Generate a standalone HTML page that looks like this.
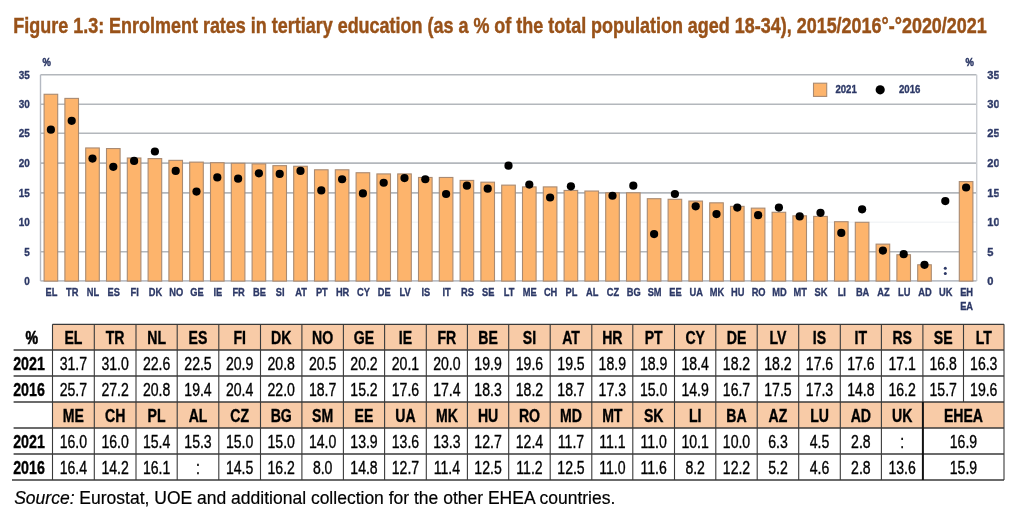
<!DOCTYPE html>
<html><head><meta charset="utf-8"><style>
html,body{margin:0;padding:0;background:#fff;width:1024px;height:514px;overflow:hidden}
svg{display:block;font-family:"Liberation Sans",sans-serif;filter:blur(0.35px)}
</style></head><body>
<svg width="1024" height="514" viewBox="0 0 1024 514">
<defs><clipPath id="rc"><rect x="0" y="0" width="998.7" height="514"/></clipPath></defs>
<line x1="40.5" y1="74.8" x2="976.5" y2="74.8" stroke="#b3b7bc" stroke-width="1.6"/>
<line x1="40.5" y1="104.3" x2="976.5" y2="104.3" stroke="#b3b7bc" stroke-width="1.6"/>
<line x1="40.5" y1="133.2" x2="976.5" y2="133.2" stroke="#b3b7bc" stroke-width="1.6"/>
<line x1="40.5" y1="163.1" x2="976.5" y2="163.1" stroke="#b3b7bc" stroke-width="1.6"/>
<line x1="40.5" y1="192.9" x2="976.5" y2="192.9" stroke="#b3b7bc" stroke-width="1.6"/>
<line x1="40.5" y1="222.3" x2="976.5" y2="222.3" stroke="#f3f5f7" stroke-width="1.6"/>
<line x1="40.5" y1="251.7" x2="976.5" y2="251.7" stroke="#b3b7bc" stroke-width="1.6"/>
<line x1="40.5" y1="74.8" x2="40.5" y2="281.0" stroke="#b4b9c2" stroke-width="1.4"/>
<line x1="976.7" y1="74.8" x2="976.7" y2="281.0" stroke="#cbced3" stroke-width="1.4"/>
<line x1="40.5" y1="280.8" x2="976.5" y2="280.8" stroke="#bcc0c7" stroke-width="1.7"/>
<rect x="44.10" y="94.27" width="13.6" height="186.83" fill="#fdb46c" stroke="#a98a72" stroke-width="1.1"/>
<rect x="64.90" y="98.40" width="13.6" height="182.70" fill="#fdb46c" stroke="#a98a72" stroke-width="1.1"/>
<rect x="85.70" y="147.96" width="13.6" height="133.14" fill="#fdb46c" stroke="#a98a72" stroke-width="1.1"/>
<rect x="106.50" y="148.55" width="13.6" height="132.55" fill="#fdb46c" stroke="#a98a72" stroke-width="1.1"/>
<rect x="127.30" y="157.99" width="13.6" height="123.11" fill="#fdb46c" stroke="#a98a72" stroke-width="1.1"/>
<rect x="148.10" y="158.58" width="13.6" height="122.52" fill="#fdb46c" stroke="#a98a72" stroke-width="1.1"/>
<rect x="168.90" y="160.35" width="13.6" height="120.75" fill="#fdb46c" stroke="#a98a72" stroke-width="1.1"/>
<rect x="189.70" y="162.12" width="13.6" height="118.98" fill="#fdb46c" stroke="#a98a72" stroke-width="1.1"/>
<rect x="210.50" y="162.71" width="13.6" height="118.39" fill="#fdb46c" stroke="#a98a72" stroke-width="1.1"/>
<rect x="231.30" y="163.30" width="13.6" height="117.80" fill="#fdb46c" stroke="#a98a72" stroke-width="1.1"/>
<rect x="252.10" y="163.89" width="13.6" height="117.21" fill="#fdb46c" stroke="#a98a72" stroke-width="1.1"/>
<rect x="272.90" y="165.66" width="13.6" height="115.44" fill="#fdb46c" stroke="#a98a72" stroke-width="1.1"/>
<rect x="293.70" y="166.25" width="13.6" height="114.85" fill="#fdb46c" stroke="#a98a72" stroke-width="1.1"/>
<rect x="314.50" y="169.79" width="13.6" height="111.31" fill="#fdb46c" stroke="#a98a72" stroke-width="1.1"/>
<rect x="335.30" y="169.79" width="13.6" height="111.31" fill="#fdb46c" stroke="#a98a72" stroke-width="1.1"/>
<rect x="356.10" y="172.74" width="13.6" height="108.36" fill="#fdb46c" stroke="#a98a72" stroke-width="1.1"/>
<rect x="376.90" y="173.92" width="13.6" height="107.18" fill="#fdb46c" stroke="#a98a72" stroke-width="1.1"/>
<rect x="397.70" y="173.92" width="13.6" height="107.18" fill="#fdb46c" stroke="#a98a72" stroke-width="1.1"/>
<rect x="418.50" y="177.46" width="13.6" height="103.64" fill="#fdb46c" stroke="#a98a72" stroke-width="1.1"/>
<rect x="439.30" y="177.46" width="13.6" height="103.64" fill="#fdb46c" stroke="#a98a72" stroke-width="1.1"/>
<rect x="460.10" y="180.41" width="13.6" height="100.69" fill="#fdb46c" stroke="#a98a72" stroke-width="1.1"/>
<rect x="480.90" y="182.18" width="13.6" height="98.92" fill="#fdb46c" stroke="#a98a72" stroke-width="1.1"/>
<rect x="501.70" y="185.13" width="13.6" height="95.97" fill="#fdb46c" stroke="#a98a72" stroke-width="1.1"/>
<rect x="522.50" y="186.90" width="13.6" height="94.20" fill="#fdb46c" stroke="#a98a72" stroke-width="1.1"/>
<rect x="543.30" y="186.90" width="13.6" height="94.20" fill="#fdb46c" stroke="#a98a72" stroke-width="1.1"/>
<rect x="564.10" y="190.44" width="13.6" height="90.66" fill="#fdb46c" stroke="#a98a72" stroke-width="1.1"/>
<rect x="584.90" y="191.03" width="13.6" height="90.07" fill="#fdb46c" stroke="#a98a72" stroke-width="1.1"/>
<rect x="605.70" y="192.80" width="13.6" height="88.30" fill="#fdb46c" stroke="#a98a72" stroke-width="1.1"/>
<rect x="626.50" y="192.80" width="13.6" height="88.30" fill="#fdb46c" stroke="#a98a72" stroke-width="1.1"/>
<rect x="647.30" y="198.70" width="13.6" height="82.40" fill="#fdb46c" stroke="#a98a72" stroke-width="1.1"/>
<rect x="668.10" y="199.29" width="13.6" height="81.81" fill="#fdb46c" stroke="#a98a72" stroke-width="1.1"/>
<rect x="688.90" y="201.06" width="13.6" height="80.04" fill="#fdb46c" stroke="#a98a72" stroke-width="1.1"/>
<rect x="709.70" y="202.83" width="13.6" height="78.27" fill="#fdb46c" stroke="#a98a72" stroke-width="1.1"/>
<rect x="730.50" y="206.37" width="13.6" height="74.73" fill="#fdb46c" stroke="#a98a72" stroke-width="1.1"/>
<rect x="751.30" y="208.14" width="13.6" height="72.96" fill="#fdb46c" stroke="#a98a72" stroke-width="1.1"/>
<rect x="772.10" y="212.27" width="13.6" height="68.83" fill="#fdb46c" stroke="#a98a72" stroke-width="1.1"/>
<rect x="792.90" y="215.81" width="13.6" height="65.29" fill="#fdb46c" stroke="#a98a72" stroke-width="1.1"/>
<rect x="813.70" y="216.40" width="13.6" height="64.70" fill="#fdb46c" stroke="#a98a72" stroke-width="1.1"/>
<rect x="834.50" y="221.71" width="13.6" height="59.39" fill="#fdb46c" stroke="#a98a72" stroke-width="1.1"/>
<rect x="855.30" y="222.30" width="13.6" height="58.80" fill="#fdb46c" stroke="#a98a72" stroke-width="1.1"/>
<rect x="876.10" y="244.13" width="13.6" height="36.97" fill="#fdb46c" stroke="#a98a72" stroke-width="1.1"/>
<rect x="896.90" y="254.75" width="13.6" height="26.35" fill="#fdb46c" stroke="#a98a72" stroke-width="1.1"/>
<rect x="917.70" y="264.78" width="13.6" height="16.32" fill="#fdb46c" stroke="#a98a72" stroke-width="1.1"/>
<rect x="959.30" y="181.59" width="13.6" height="99.51" fill="#fdb46c" stroke="#a98a72" stroke-width="1.1"/>
<circle cx="50.90" cy="129.67" r="4.1" fill="#000"/>
<circle cx="71.70" cy="120.82" r="4.1" fill="#000"/>
<circle cx="92.50" cy="158.58" r="4.1" fill="#000"/>
<circle cx="113.30" cy="166.84" r="4.1" fill="#000"/>
<circle cx="134.10" cy="160.94" r="4.1" fill="#000"/>
<circle cx="154.90" cy="151.50" r="4.1" fill="#000"/>
<circle cx="175.70" cy="170.97" r="4.1" fill="#000"/>
<circle cx="196.50" cy="191.62" r="4.1" fill="#000"/>
<circle cx="217.30" cy="177.46" r="4.1" fill="#000"/>
<circle cx="238.10" cy="178.64" r="4.1" fill="#000"/>
<circle cx="258.90" cy="173.33" r="4.1" fill="#000"/>
<circle cx="279.70" cy="173.92" r="4.1" fill="#000"/>
<circle cx="300.50" cy="170.97" r="4.1" fill="#000"/>
<circle cx="321.30" cy="190.44" r="4.1" fill="#000"/>
<circle cx="342.10" cy="179.23" r="4.1" fill="#000"/>
<circle cx="362.90" cy="193.39" r="4.1" fill="#000"/>
<circle cx="383.70" cy="182.77" r="4.1" fill="#000"/>
<circle cx="404.50" cy="178.05" r="4.1" fill="#000"/>
<circle cx="425.30" cy="179.23" r="4.1" fill="#000"/>
<circle cx="446.10" cy="193.98" r="4.1" fill="#000"/>
<circle cx="466.90" cy="185.72" r="4.1" fill="#000"/>
<circle cx="487.70" cy="188.67" r="4.1" fill="#000"/>
<circle cx="508.50" cy="165.66" r="4.1" fill="#000"/>
<circle cx="529.30" cy="184.54" r="4.1" fill="#000"/>
<circle cx="550.10" cy="197.52" r="4.1" fill="#000"/>
<circle cx="570.90" cy="186.31" r="4.1" fill="#000"/>
<circle cx="612.50" cy="195.75" r="4.1" fill="#000"/>
<circle cx="633.30" cy="185.72" r="4.1" fill="#000"/>
<circle cx="654.10" cy="234.10" r="4.1" fill="#000"/>
<circle cx="674.90" cy="193.98" r="4.1" fill="#000"/>
<circle cx="695.70" cy="206.37" r="4.1" fill="#000"/>
<circle cx="716.50" cy="214.04" r="4.1" fill="#000"/>
<circle cx="737.30" cy="207.55" r="4.1" fill="#000"/>
<circle cx="758.10" cy="215.22" r="4.1" fill="#000"/>
<circle cx="778.90" cy="207.55" r="4.1" fill="#000"/>
<circle cx="799.70" cy="216.40" r="4.1" fill="#000"/>
<circle cx="820.50" cy="212.86" r="4.1" fill="#000"/>
<circle cx="841.30" cy="232.92" r="4.1" fill="#000"/>
<circle cx="862.10" cy="209.32" r="4.1" fill="#000"/>
<circle cx="882.90" cy="250.62" r="4.1" fill="#000"/>
<circle cx="903.70" cy="254.16" r="4.1" fill="#000"/>
<circle cx="924.50" cy="264.78" r="4.1" fill="#000"/>
<circle cx="945.30" cy="201.06" r="4.1" fill="#000"/>
<circle cx="966.10" cy="187.49" r="4.1" fill="#000"/>
<circle cx="945.30" cy="268.3" r="1.5" fill="#2c3866"/>
<circle cx="945.30" cy="273.6" r="1.5" fill="#2c3866"/>
<text transform="translate(51.40,296.20) scale(0.8,1)" text-anchor="middle" font-size="11.6" font-weight="bold" font-style="normal" fill="#2c3866" stroke="#2c3866" stroke-width="0.35" >EL</text>
<text transform="translate(72.20,296.20) scale(0.8,1)" text-anchor="middle" font-size="11.6" font-weight="bold" font-style="normal" fill="#2c3866" stroke="#2c3866" stroke-width="0.35" >TR</text>
<text transform="translate(93.00,296.20) scale(0.8,1)" text-anchor="middle" font-size="11.6" font-weight="bold" font-style="normal" fill="#2c3866" stroke="#2c3866" stroke-width="0.35" >NL</text>
<text transform="translate(113.80,296.20) scale(0.8,1)" text-anchor="middle" font-size="11.6" font-weight="bold" font-style="normal" fill="#2c3866" stroke="#2c3866" stroke-width="0.35" >ES</text>
<text transform="translate(134.60,296.20) scale(0.8,1)" text-anchor="middle" font-size="11.6" font-weight="bold" font-style="normal" fill="#2c3866" stroke="#2c3866" stroke-width="0.35" >FI</text>
<text transform="translate(155.40,296.20) scale(0.8,1)" text-anchor="middle" font-size="11.6" font-weight="bold" font-style="normal" fill="#2c3866" stroke="#2c3866" stroke-width="0.35" >DK</text>
<text transform="translate(176.20,296.20) scale(0.8,1)" text-anchor="middle" font-size="11.6" font-weight="bold" font-style="normal" fill="#2c3866" stroke="#2c3866" stroke-width="0.35" >NO</text>
<text transform="translate(197.00,296.20) scale(0.8,1)" text-anchor="middle" font-size="11.6" font-weight="bold" font-style="normal" fill="#2c3866" stroke="#2c3866" stroke-width="0.35" >GE</text>
<text transform="translate(217.80,296.20) scale(0.8,1)" text-anchor="middle" font-size="11.6" font-weight="bold" font-style="normal" fill="#2c3866" stroke="#2c3866" stroke-width="0.35" >IE</text>
<text transform="translate(238.60,296.20) scale(0.8,1)" text-anchor="middle" font-size="11.6" font-weight="bold" font-style="normal" fill="#2c3866" stroke="#2c3866" stroke-width="0.35" >FR</text>
<text transform="translate(259.40,296.20) scale(0.8,1)" text-anchor="middle" font-size="11.6" font-weight="bold" font-style="normal" fill="#2c3866" stroke="#2c3866" stroke-width="0.35" >BE</text>
<text transform="translate(280.20,296.20) scale(0.8,1)" text-anchor="middle" font-size="11.6" font-weight="bold" font-style="normal" fill="#2c3866" stroke="#2c3866" stroke-width="0.35" >SI</text>
<text transform="translate(301.00,296.20) scale(0.8,1)" text-anchor="middle" font-size="11.6" font-weight="bold" font-style="normal" fill="#2c3866" stroke="#2c3866" stroke-width="0.35" >AT</text>
<text transform="translate(321.80,296.20) scale(0.8,1)" text-anchor="middle" font-size="11.6" font-weight="bold" font-style="normal" fill="#2c3866" stroke="#2c3866" stroke-width="0.35" >PT</text>
<text transform="translate(342.60,296.20) scale(0.8,1)" text-anchor="middle" font-size="11.6" font-weight="bold" font-style="normal" fill="#2c3866" stroke="#2c3866" stroke-width="0.35" >HR</text>
<text transform="translate(363.40,296.20) scale(0.8,1)" text-anchor="middle" font-size="11.6" font-weight="bold" font-style="normal" fill="#2c3866" stroke="#2c3866" stroke-width="0.35" >CY</text>
<text transform="translate(384.20,296.20) scale(0.8,1)" text-anchor="middle" font-size="11.6" font-weight="bold" font-style="normal" fill="#2c3866" stroke="#2c3866" stroke-width="0.35" >DE</text>
<text transform="translate(405.00,296.20) scale(0.8,1)" text-anchor="middle" font-size="11.6" font-weight="bold" font-style="normal" fill="#2c3866" stroke="#2c3866" stroke-width="0.35" >LV</text>
<text transform="translate(425.80,296.20) scale(0.8,1)" text-anchor="middle" font-size="11.6" font-weight="bold" font-style="normal" fill="#2c3866" stroke="#2c3866" stroke-width="0.35" >IS</text>
<text transform="translate(446.60,296.20) scale(0.8,1)" text-anchor="middle" font-size="11.6" font-weight="bold" font-style="normal" fill="#2c3866" stroke="#2c3866" stroke-width="0.35" >IT</text>
<text transform="translate(467.40,296.20) scale(0.8,1)" text-anchor="middle" font-size="11.6" font-weight="bold" font-style="normal" fill="#2c3866" stroke="#2c3866" stroke-width="0.35" >RS</text>
<text transform="translate(488.20,296.20) scale(0.8,1)" text-anchor="middle" font-size="11.6" font-weight="bold" font-style="normal" fill="#2c3866" stroke="#2c3866" stroke-width="0.35" >SE</text>
<text transform="translate(509.00,296.20) scale(0.8,1)" text-anchor="middle" font-size="11.6" font-weight="bold" font-style="normal" fill="#2c3866" stroke="#2c3866" stroke-width="0.35" >LT</text>
<text transform="translate(529.80,296.20) scale(0.8,1)" text-anchor="middle" font-size="11.6" font-weight="bold" font-style="normal" fill="#2c3866" stroke="#2c3866" stroke-width="0.35" >ME</text>
<text transform="translate(550.60,296.20) scale(0.8,1)" text-anchor="middle" font-size="11.6" font-weight="bold" font-style="normal" fill="#2c3866" stroke="#2c3866" stroke-width="0.35" >CH</text>
<text transform="translate(571.40,296.20) scale(0.8,1)" text-anchor="middle" font-size="11.6" font-weight="bold" font-style="normal" fill="#2c3866" stroke="#2c3866" stroke-width="0.35" >PL</text>
<text transform="translate(592.20,296.20) scale(0.8,1)" text-anchor="middle" font-size="11.6" font-weight="bold" font-style="normal" fill="#2c3866" stroke="#2c3866" stroke-width="0.35" >AL</text>
<text transform="translate(613.00,296.20) scale(0.8,1)" text-anchor="middle" font-size="11.6" font-weight="bold" font-style="normal" fill="#2c3866" stroke="#2c3866" stroke-width="0.35" >CZ</text>
<text transform="translate(633.80,296.20) scale(0.8,1)" text-anchor="middle" font-size="11.6" font-weight="bold" font-style="normal" fill="#2c3866" stroke="#2c3866" stroke-width="0.35" >BG</text>
<text transform="translate(654.60,296.20) scale(0.8,1)" text-anchor="middle" font-size="11.6" font-weight="bold" font-style="normal" fill="#2c3866" stroke="#2c3866" stroke-width="0.35" >SM</text>
<text transform="translate(675.40,296.20) scale(0.8,1)" text-anchor="middle" font-size="11.6" font-weight="bold" font-style="normal" fill="#2c3866" stroke="#2c3866" stroke-width="0.35" >EE</text>
<text transform="translate(696.20,296.20) scale(0.8,1)" text-anchor="middle" font-size="11.6" font-weight="bold" font-style="normal" fill="#2c3866" stroke="#2c3866" stroke-width="0.35" >UA</text>
<text transform="translate(717.00,296.20) scale(0.8,1)" text-anchor="middle" font-size="11.6" font-weight="bold" font-style="normal" fill="#2c3866" stroke="#2c3866" stroke-width="0.35" >MK</text>
<text transform="translate(737.80,296.20) scale(0.8,1)" text-anchor="middle" font-size="11.6" font-weight="bold" font-style="normal" fill="#2c3866" stroke="#2c3866" stroke-width="0.35" >HU</text>
<text transform="translate(758.60,296.20) scale(0.8,1)" text-anchor="middle" font-size="11.6" font-weight="bold" font-style="normal" fill="#2c3866" stroke="#2c3866" stroke-width="0.35" >RO</text>
<text transform="translate(779.40,296.20) scale(0.8,1)" text-anchor="middle" font-size="11.6" font-weight="bold" font-style="normal" fill="#2c3866" stroke="#2c3866" stroke-width="0.35" >MD</text>
<text transform="translate(800.20,296.20) scale(0.8,1)" text-anchor="middle" font-size="11.6" font-weight="bold" font-style="normal" fill="#2c3866" stroke="#2c3866" stroke-width="0.35" >MT</text>
<text transform="translate(821.00,296.20) scale(0.8,1)" text-anchor="middle" font-size="11.6" font-weight="bold" font-style="normal" fill="#2c3866" stroke="#2c3866" stroke-width="0.35" >SK</text>
<text transform="translate(841.80,296.20) scale(0.8,1)" text-anchor="middle" font-size="11.6" font-weight="bold" font-style="normal" fill="#2c3866" stroke="#2c3866" stroke-width="0.35" >LI</text>
<text transform="translate(862.60,296.20) scale(0.8,1)" text-anchor="middle" font-size="11.6" font-weight="bold" font-style="normal" fill="#2c3866" stroke="#2c3866" stroke-width="0.35" >BA</text>
<text transform="translate(883.40,296.20) scale(0.8,1)" text-anchor="middle" font-size="11.6" font-weight="bold" font-style="normal" fill="#2c3866" stroke="#2c3866" stroke-width="0.35" >AZ</text>
<text transform="translate(904.20,296.20) scale(0.8,1)" text-anchor="middle" font-size="11.6" font-weight="bold" font-style="normal" fill="#2c3866" stroke="#2c3866" stroke-width="0.35" >LU</text>
<text transform="translate(925.00,296.20) scale(0.8,1)" text-anchor="middle" font-size="11.6" font-weight="bold" font-style="normal" fill="#2c3866" stroke="#2c3866" stroke-width="0.35" >AD</text>
<text transform="translate(945.80,296.20) scale(0.8,1)" text-anchor="middle" font-size="11.6" font-weight="bold" font-style="normal" fill="#2c3866" stroke="#2c3866" stroke-width="0.35" >UK</text>
<text transform="translate(966.60,296.20) scale(0.8,1)" text-anchor="middle" font-size="11.6" font-weight="bold" font-style="normal" fill="#2c3866" stroke="#2c3866" stroke-width="0.35" >EH</text>
<text transform="translate(966.60,309.60) scale(0.8,1)" text-anchor="middle" font-size="11.6" font-weight="bold" font-style="normal" fill="#2c3866" stroke="#2c3866" stroke-width="0.35" >EA</text>
<text transform="translate(29.80,78.80) scale(0.86,1)" text-anchor="end" font-size="11.6" font-weight="bold" font-style="normal" fill="#2c3866" stroke="#2c3866" stroke-width="0.35" >35</text>
<g clip-path="url(#rc)"><text transform="translate(987.20,78.80) scale(0.96,1)" text-anchor="start" font-size="11.6" font-weight="bold" font-style="normal" fill="#2c3866" stroke="#2c3866" stroke-width="0.35" >35</text></g>
<text transform="translate(29.80,108.30) scale(0.86,1)" text-anchor="end" font-size="11.6" font-weight="bold" font-style="normal" fill="#2c3866" stroke="#2c3866" stroke-width="0.35" >30</text>
<g clip-path="url(#rc)"><text transform="translate(987.20,108.30) scale(0.96,1)" text-anchor="start" font-size="11.6" font-weight="bold" font-style="normal" fill="#2c3866" stroke="#2c3866" stroke-width="0.35" >30</text></g>
<text transform="translate(29.80,137.20) scale(0.86,1)" text-anchor="end" font-size="11.6" font-weight="bold" font-style="normal" fill="#2c3866" stroke="#2c3866" stroke-width="0.35" >25</text>
<g clip-path="url(#rc)"><text transform="translate(987.20,137.20) scale(0.96,1)" text-anchor="start" font-size="11.6" font-weight="bold" font-style="normal" fill="#2c3866" stroke="#2c3866" stroke-width="0.35" >25</text></g>
<text transform="translate(29.80,167.10) scale(0.86,1)" text-anchor="end" font-size="11.6" font-weight="bold" font-style="normal" fill="#2c3866" stroke="#2c3866" stroke-width="0.35" >20</text>
<g clip-path="url(#rc)"><text transform="translate(987.20,167.10) scale(0.96,1)" text-anchor="start" font-size="11.6" font-weight="bold" font-style="normal" fill="#2c3866" stroke="#2c3866" stroke-width="0.35" >20</text></g>
<text transform="translate(29.80,196.90) scale(0.86,1)" text-anchor="end" font-size="11.6" font-weight="bold" font-style="normal" fill="#2c3866" stroke="#2c3866" stroke-width="0.35" >15</text>
<g clip-path="url(#rc)"><text transform="translate(987.20,196.90) scale(0.96,1)" text-anchor="start" font-size="11.6" font-weight="bold" font-style="normal" fill="#2c3866" stroke="#2c3866" stroke-width="0.35" >15</text></g>
<text transform="translate(29.80,226.30) scale(0.86,1)" text-anchor="end" font-size="11.6" font-weight="bold" font-style="normal" fill="#2c3866" stroke="#2c3866" stroke-width="0.35" >10</text>
<g clip-path="url(#rc)"><text transform="translate(987.20,226.30) scale(0.96,1)" text-anchor="start" font-size="11.6" font-weight="bold" font-style="normal" fill="#2c3866" stroke="#2c3866" stroke-width="0.35" >10</text></g>
<text transform="translate(29.80,255.70) scale(0.86,1)" text-anchor="end" font-size="11.6" font-weight="bold" font-style="normal" fill="#2c3866" stroke="#2c3866" stroke-width="0.35" >5</text>
<g clip-path="url(#rc)"><text transform="translate(987.20,255.70) scale(0.96,1)" text-anchor="start" font-size="11.6" font-weight="bold" font-style="normal" fill="#2c3866" stroke="#2c3866" stroke-width="0.35" >5</text></g>
<text transform="translate(29.80,285.00) scale(0.86,1)" text-anchor="end" font-size="11.6" font-weight="bold" font-style="normal" fill="#2c3866" stroke="#2c3866" stroke-width="0.35" >0</text>
<g clip-path="url(#rc)"><text transform="translate(987.20,285.00) scale(0.96,1)" text-anchor="start" font-size="11.6" font-weight="bold" font-style="normal" fill="#2c3866" stroke="#2c3866" stroke-width="0.35" >0</text></g>
<text transform="translate(42.40,66.30) scale(0.8,1)" text-anchor="start" font-size="11.8" font-weight="bold" font-style="normal" fill="#2c3866" stroke="#2c3866" stroke-width="0.5" >%</text>
<text transform="translate(965.40,66.30) scale(0.8,1)" text-anchor="start" font-size="11.8" font-weight="bold" font-style="normal" fill="#2c3866" stroke="#2c3866" stroke-width="0.5" >%</text>
<rect x="813.5" y="83.2" width="13.2" height="13.2" fill="#fdb46c" stroke="#a98a72" stroke-width="1.1"/>
<text transform="translate(835.40,93.30) scale(0.86,1)" text-anchor="start" font-size="11.2" font-weight="bold" font-style="normal" fill="#2c3866" stroke="#2c3866" stroke-width="0.35" >2021</text>
<circle cx="880.2" cy="89.8" r="4.6" fill="#000"/>
<text transform="translate(899.00,93.30) scale(0.86,1)" text-anchor="start" font-size="11.2" font-weight="bold" font-style="normal" fill="#2c3866" stroke="#2c3866" stroke-width="0.35" >2016</text>
<text transform="translate(13.30,33.00) scale(1.0,1)" text-anchor="start" font-size="21.6" font-weight="bold" font-style="normal" fill="#995219" stroke="#995219" stroke-width="0.45" textLength="973.5" lengthAdjust="spacingAndGlyphs">Figure 1.3: Enrolment rates in tertiary education (as a % of the total population aged 18-34), 2015/2016°-°2020/2021</text>
<rect x="52.5" y="324.3" width="951.5" height="25.69999999999999" fill="#f8cba7"/>
<rect x="52.5" y="402.0" width="951.5" height="26.0" fill="#f8cba7"/>
<line x1="52.5" y1="324.3" x2="1004.0" y2="324.3" stroke="#3a3a3a" stroke-width="1.3"/>
<line x1="13.6" y1="350.0" x2="1004.0" y2="350.0" stroke="#3a3a3a" stroke-width="1.4"/>
<line x1="13.6" y1="376.0" x2="1004.0" y2="376.0" stroke="#3a3a3a" stroke-width="1.4"/>
<line x1="13.6" y1="402.0" x2="1004.0" y2="402.0" stroke="#3a3a3a" stroke-width="1.4"/>
<line x1="13.6" y1="428.0" x2="1004.0" y2="428.0" stroke="#3a3a3a" stroke-width="1.4"/>
<line x1="13.6" y1="454.0" x2="1004.0" y2="454.0" stroke="#3a3a3a" stroke-width="1.4"/>
<line x1="12.0" y1="480.0" x2="1004.0" y2="480.0" stroke="#3a3a3a" stroke-width="1.4"/>
<line x1="52.5" y1="324.3" x2="52.5" y2="480.0" stroke="#3a3a3a" stroke-width="1.1"/>
<line x1="94.3" y1="324.3" x2="94.3" y2="480.0" stroke="#3a3a3a" stroke-width="1.1"/>
<line x1="136.0" y1="324.3" x2="136.0" y2="480.0" stroke="#3a3a3a" stroke-width="1.1"/>
<line x1="177.2" y1="324.3" x2="177.2" y2="480.0" stroke="#3a3a3a" stroke-width="1.1"/>
<line x1="218.8" y1="324.3" x2="218.8" y2="480.0" stroke="#3a3a3a" stroke-width="1.1"/>
<line x1="260.5" y1="324.3" x2="260.5" y2="480.0" stroke="#3a3a3a" stroke-width="1.1"/>
<line x1="301.9" y1="324.3" x2="301.9" y2="480.0" stroke="#3a3a3a" stroke-width="1.1"/>
<line x1="343.4" y1="324.3" x2="343.4" y2="480.0" stroke="#3a3a3a" stroke-width="1.1"/>
<line x1="384.6" y1="324.3" x2="384.6" y2="480.0" stroke="#3a3a3a" stroke-width="1.1"/>
<line x1="426.3" y1="324.3" x2="426.3" y2="480.0" stroke="#3a3a3a" stroke-width="1.1"/>
<line x1="467.4" y1="324.3" x2="467.4" y2="480.0" stroke="#3a3a3a" stroke-width="1.1"/>
<line x1="508.7" y1="324.3" x2="508.7" y2="480.0" stroke="#3a3a3a" stroke-width="1.1"/>
<line x1="550.2" y1="324.3" x2="550.2" y2="480.0" stroke="#3a3a3a" stroke-width="1.1"/>
<line x1="591.8" y1="324.3" x2="591.8" y2="480.0" stroke="#3a3a3a" stroke-width="1.1"/>
<line x1="632.8" y1="324.3" x2="632.8" y2="480.0" stroke="#3a3a3a" stroke-width="1.1"/>
<line x1="674.5" y1="324.3" x2="674.5" y2="480.0" stroke="#3a3a3a" stroke-width="1.1"/>
<line x1="715.8" y1="324.3" x2="715.8" y2="480.0" stroke="#3a3a3a" stroke-width="1.1"/>
<line x1="757.2" y1="324.3" x2="757.2" y2="480.0" stroke="#3a3a3a" stroke-width="1.1"/>
<line x1="798.7" y1="324.3" x2="798.7" y2="480.0" stroke="#3a3a3a" stroke-width="1.1"/>
<line x1="840.3" y1="324.3" x2="840.3" y2="480.0" stroke="#3a3a3a" stroke-width="1.1"/>
<line x1="881.4" y1="324.3" x2="881.4" y2="480.0" stroke="#3a3a3a" stroke-width="1.1"/>
<line x1="922.9" y1="324.3" x2="922.9" y2="402.0" stroke="#3a3a3a" stroke-width="1.1"/>
<line x1="922.9" y1="402.0" x2="922.9" y2="480.0" stroke="#111" stroke-width="2.0"/>
<line x1="963.5" y1="324.3" x2="963.5" y2="402.0" stroke="#3a3a3a" stroke-width="1.1"/>
<line x1="1004.0" y1="324.3" x2="1004.0" y2="480.0" stroke="#3a3a3a" stroke-width="1.1"/>
<text transform="translate(31.80,344.30) scale(0.8,1)" text-anchor="middle" font-size="17.6" font-weight="bold" font-style="normal" fill="#000" stroke="#000" stroke-width="0.6" >%</text>
<text transform="translate(73.40,344.30) scale(0.8,1)" text-anchor="middle" font-size="17.6" font-weight="bold" font-style="normal" fill="#000" stroke="#000" stroke-width="0.35" >EL</text>
<text transform="translate(73.40,370.00) scale(0.8,1)" text-anchor="middle" font-size="17.6" font-weight="normal" font-style="normal" fill="#000" stroke="#000" stroke-width="0.35" >31.7</text>
<text transform="translate(73.40,396.00) scale(0.8,1)" text-anchor="middle" font-size="17.6" font-weight="normal" font-style="normal" fill="#000" stroke="#000" stroke-width="0.35" >25.7</text>
<text transform="translate(115.15,344.30) scale(0.8,1)" text-anchor="middle" font-size="17.6" font-weight="bold" font-style="normal" fill="#000" stroke="#000" stroke-width="0.35" >TR</text>
<text transform="translate(115.15,370.00) scale(0.8,1)" text-anchor="middle" font-size="17.6" font-weight="normal" font-style="normal" fill="#000" stroke="#000" stroke-width="0.35" >31.0</text>
<text transform="translate(115.15,396.00) scale(0.8,1)" text-anchor="middle" font-size="17.6" font-weight="normal" font-style="normal" fill="#000" stroke="#000" stroke-width="0.35" >27.2</text>
<text transform="translate(156.60,344.30) scale(0.8,1)" text-anchor="middle" font-size="17.6" font-weight="bold" font-style="normal" fill="#000" stroke="#000" stroke-width="0.35" >NL</text>
<text transform="translate(156.60,370.00) scale(0.8,1)" text-anchor="middle" font-size="17.6" font-weight="normal" font-style="normal" fill="#000" stroke="#000" stroke-width="0.35" >22.6</text>
<text transform="translate(156.60,396.00) scale(0.8,1)" text-anchor="middle" font-size="17.6" font-weight="normal" font-style="normal" fill="#000" stroke="#000" stroke-width="0.35" >20.8</text>
<text transform="translate(198.00,344.30) scale(0.8,1)" text-anchor="middle" font-size="17.6" font-weight="bold" font-style="normal" fill="#000" stroke="#000" stroke-width="0.35" >ES</text>
<text transform="translate(198.00,370.00) scale(0.8,1)" text-anchor="middle" font-size="17.6" font-weight="normal" font-style="normal" fill="#000" stroke="#000" stroke-width="0.35" >22.5</text>
<text transform="translate(198.00,396.00) scale(0.8,1)" text-anchor="middle" font-size="17.6" font-weight="normal" font-style="normal" fill="#000" stroke="#000" stroke-width="0.35" >19.4</text>
<text transform="translate(239.65,344.30) scale(0.8,1)" text-anchor="middle" font-size="17.6" font-weight="bold" font-style="normal" fill="#000" stroke="#000" stroke-width="0.35" >FI</text>
<text transform="translate(239.65,370.00) scale(0.8,1)" text-anchor="middle" font-size="17.6" font-weight="normal" font-style="normal" fill="#000" stroke="#000" stroke-width="0.35" >20.9</text>
<text transform="translate(239.65,396.00) scale(0.8,1)" text-anchor="middle" font-size="17.6" font-weight="normal" font-style="normal" fill="#000" stroke="#000" stroke-width="0.35" >20.4</text>
<text transform="translate(281.20,344.30) scale(0.8,1)" text-anchor="middle" font-size="17.6" font-weight="bold" font-style="normal" fill="#000" stroke="#000" stroke-width="0.35" >DK</text>
<text transform="translate(281.20,370.00) scale(0.8,1)" text-anchor="middle" font-size="17.6" font-weight="normal" font-style="normal" fill="#000" stroke="#000" stroke-width="0.35" >20.8</text>
<text transform="translate(281.20,396.00) scale(0.8,1)" text-anchor="middle" font-size="17.6" font-weight="normal" font-style="normal" fill="#000" stroke="#000" stroke-width="0.35" >22.0</text>
<text transform="translate(322.65,344.30) scale(0.8,1)" text-anchor="middle" font-size="17.6" font-weight="bold" font-style="normal" fill="#000" stroke="#000" stroke-width="0.35" >NO</text>
<text transform="translate(322.65,370.00) scale(0.8,1)" text-anchor="middle" font-size="17.6" font-weight="normal" font-style="normal" fill="#000" stroke="#000" stroke-width="0.35" >20.5</text>
<text transform="translate(322.65,396.00) scale(0.8,1)" text-anchor="middle" font-size="17.6" font-weight="normal" font-style="normal" fill="#000" stroke="#000" stroke-width="0.35" >18.7</text>
<text transform="translate(364.00,344.30) scale(0.8,1)" text-anchor="middle" font-size="17.6" font-weight="bold" font-style="normal" fill="#000" stroke="#000" stroke-width="0.35" >GE</text>
<text transform="translate(364.00,370.00) scale(0.8,1)" text-anchor="middle" font-size="17.6" font-weight="normal" font-style="normal" fill="#000" stroke="#000" stroke-width="0.35" >20.2</text>
<text transform="translate(364.00,396.00) scale(0.8,1)" text-anchor="middle" font-size="17.6" font-weight="normal" font-style="normal" fill="#000" stroke="#000" stroke-width="0.35" >15.2</text>
<text transform="translate(405.45,344.30) scale(0.8,1)" text-anchor="middle" font-size="17.6" font-weight="bold" font-style="normal" fill="#000" stroke="#000" stroke-width="0.35" >IE</text>
<text transform="translate(405.45,370.00) scale(0.8,1)" text-anchor="middle" font-size="17.6" font-weight="normal" font-style="normal" fill="#000" stroke="#000" stroke-width="0.35" >20.1</text>
<text transform="translate(405.45,396.00) scale(0.8,1)" text-anchor="middle" font-size="17.6" font-weight="normal" font-style="normal" fill="#000" stroke="#000" stroke-width="0.35" >17.6</text>
<text transform="translate(446.85,344.30) scale(0.8,1)" text-anchor="middle" font-size="17.6" font-weight="bold" font-style="normal" fill="#000" stroke="#000" stroke-width="0.35" >FR</text>
<text transform="translate(446.85,370.00) scale(0.8,1)" text-anchor="middle" font-size="17.6" font-weight="normal" font-style="normal" fill="#000" stroke="#000" stroke-width="0.35" >20.0</text>
<text transform="translate(446.85,396.00) scale(0.8,1)" text-anchor="middle" font-size="17.6" font-weight="normal" font-style="normal" fill="#000" stroke="#000" stroke-width="0.35" >17.4</text>
<text transform="translate(488.05,344.30) scale(0.8,1)" text-anchor="middle" font-size="17.6" font-weight="bold" font-style="normal" fill="#000" stroke="#000" stroke-width="0.35" >BE</text>
<text transform="translate(488.05,370.00) scale(0.8,1)" text-anchor="middle" font-size="17.6" font-weight="normal" font-style="normal" fill="#000" stroke="#000" stroke-width="0.35" >19.9</text>
<text transform="translate(488.05,396.00) scale(0.8,1)" text-anchor="middle" font-size="17.6" font-weight="normal" font-style="normal" fill="#000" stroke="#000" stroke-width="0.35" >18.3</text>
<text transform="translate(529.45,344.30) scale(0.8,1)" text-anchor="middle" font-size="17.6" font-weight="bold" font-style="normal" fill="#000" stroke="#000" stroke-width="0.35" >SI</text>
<text transform="translate(529.45,370.00) scale(0.8,1)" text-anchor="middle" font-size="17.6" font-weight="normal" font-style="normal" fill="#000" stroke="#000" stroke-width="0.35" >19.6</text>
<text transform="translate(529.45,396.00) scale(0.8,1)" text-anchor="middle" font-size="17.6" font-weight="normal" font-style="normal" fill="#000" stroke="#000" stroke-width="0.35" >18.2</text>
<text transform="translate(571.00,344.30) scale(0.8,1)" text-anchor="middle" font-size="17.6" font-weight="bold" font-style="normal" fill="#000" stroke="#000" stroke-width="0.35" >AT</text>
<text transform="translate(571.00,370.00) scale(0.8,1)" text-anchor="middle" font-size="17.6" font-weight="normal" font-style="normal" fill="#000" stroke="#000" stroke-width="0.35" >19.5</text>
<text transform="translate(571.00,396.00) scale(0.8,1)" text-anchor="middle" font-size="17.6" font-weight="normal" font-style="normal" fill="#000" stroke="#000" stroke-width="0.35" >18.7</text>
<text transform="translate(612.30,344.30) scale(0.8,1)" text-anchor="middle" font-size="17.6" font-weight="bold" font-style="normal" fill="#000" stroke="#000" stroke-width="0.35" >HR</text>
<text transform="translate(612.30,370.00) scale(0.8,1)" text-anchor="middle" font-size="17.6" font-weight="normal" font-style="normal" fill="#000" stroke="#000" stroke-width="0.35" >18.9</text>
<text transform="translate(612.30,396.00) scale(0.8,1)" text-anchor="middle" font-size="17.6" font-weight="normal" font-style="normal" fill="#000" stroke="#000" stroke-width="0.35" >17.3</text>
<text transform="translate(653.65,344.30) scale(0.8,1)" text-anchor="middle" font-size="17.6" font-weight="bold" font-style="normal" fill="#000" stroke="#000" stroke-width="0.35" >PT</text>
<text transform="translate(653.65,370.00) scale(0.8,1)" text-anchor="middle" font-size="17.6" font-weight="normal" font-style="normal" fill="#000" stroke="#000" stroke-width="0.35" >18.9</text>
<text transform="translate(653.65,396.00) scale(0.8,1)" text-anchor="middle" font-size="17.6" font-weight="normal" font-style="normal" fill="#000" stroke="#000" stroke-width="0.35" >15.0</text>
<text transform="translate(695.15,344.30) scale(0.8,1)" text-anchor="middle" font-size="17.6" font-weight="bold" font-style="normal" fill="#000" stroke="#000" stroke-width="0.35" >CY</text>
<text transform="translate(695.15,370.00) scale(0.8,1)" text-anchor="middle" font-size="17.6" font-weight="normal" font-style="normal" fill="#000" stroke="#000" stroke-width="0.35" >18.4</text>
<text transform="translate(695.15,396.00) scale(0.8,1)" text-anchor="middle" font-size="17.6" font-weight="normal" font-style="normal" fill="#000" stroke="#000" stroke-width="0.35" >14.9</text>
<text transform="translate(736.50,344.30) scale(0.8,1)" text-anchor="middle" font-size="17.6" font-weight="bold" font-style="normal" fill="#000" stroke="#000" stroke-width="0.35" >DE</text>
<text transform="translate(736.50,370.00) scale(0.8,1)" text-anchor="middle" font-size="17.6" font-weight="normal" font-style="normal" fill="#000" stroke="#000" stroke-width="0.35" >18.2</text>
<text transform="translate(736.50,396.00) scale(0.8,1)" text-anchor="middle" font-size="17.6" font-weight="normal" font-style="normal" fill="#000" stroke="#000" stroke-width="0.35" >16.7</text>
<text transform="translate(777.95,344.30) scale(0.8,1)" text-anchor="middle" font-size="17.6" font-weight="bold" font-style="normal" fill="#000" stroke="#000" stroke-width="0.35" >LV</text>
<text transform="translate(777.95,370.00) scale(0.8,1)" text-anchor="middle" font-size="17.6" font-weight="normal" font-style="normal" fill="#000" stroke="#000" stroke-width="0.35" >18.2</text>
<text transform="translate(777.95,396.00) scale(0.8,1)" text-anchor="middle" font-size="17.6" font-weight="normal" font-style="normal" fill="#000" stroke="#000" stroke-width="0.35" >17.5</text>
<text transform="translate(819.50,344.30) scale(0.8,1)" text-anchor="middle" font-size="17.6" font-weight="bold" font-style="normal" fill="#000" stroke="#000" stroke-width="0.35" >IS</text>
<text transform="translate(819.50,370.00) scale(0.8,1)" text-anchor="middle" font-size="17.6" font-weight="normal" font-style="normal" fill="#000" stroke="#000" stroke-width="0.35" >17.6</text>
<text transform="translate(819.50,396.00) scale(0.8,1)" text-anchor="middle" font-size="17.6" font-weight="normal" font-style="normal" fill="#000" stroke="#000" stroke-width="0.35" >17.3</text>
<text transform="translate(860.85,344.30) scale(0.8,1)" text-anchor="middle" font-size="17.6" font-weight="bold" font-style="normal" fill="#000" stroke="#000" stroke-width="0.35" >IT</text>
<text transform="translate(860.85,370.00) scale(0.8,1)" text-anchor="middle" font-size="17.6" font-weight="normal" font-style="normal" fill="#000" stroke="#000" stroke-width="0.35" >17.6</text>
<text transform="translate(860.85,396.00) scale(0.8,1)" text-anchor="middle" font-size="17.6" font-weight="normal" font-style="normal" fill="#000" stroke="#000" stroke-width="0.35" >14.8</text>
<text transform="translate(902.15,344.30) scale(0.8,1)" text-anchor="middle" font-size="17.6" font-weight="bold" font-style="normal" fill="#000" stroke="#000" stroke-width="0.35" >RS</text>
<text transform="translate(902.15,370.00) scale(0.8,1)" text-anchor="middle" font-size="17.6" font-weight="normal" font-style="normal" fill="#000" stroke="#000" stroke-width="0.35" >17.1</text>
<text transform="translate(902.15,396.00) scale(0.8,1)" text-anchor="middle" font-size="17.6" font-weight="normal" font-style="normal" fill="#000" stroke="#000" stroke-width="0.35" >16.2</text>
<text transform="translate(943.20,344.30) scale(0.8,1)" text-anchor="middle" font-size="17.6" font-weight="bold" font-style="normal" fill="#000" stroke="#000" stroke-width="0.35" >SE</text>
<text transform="translate(943.20,370.00) scale(0.8,1)" text-anchor="middle" font-size="17.6" font-weight="normal" font-style="normal" fill="#000" stroke="#000" stroke-width="0.35" >16.8</text>
<text transform="translate(943.20,396.00) scale(0.8,1)" text-anchor="middle" font-size="17.6" font-weight="normal" font-style="normal" fill="#000" stroke="#000" stroke-width="0.35" >15.7</text>
<text transform="translate(983.75,344.30) scale(0.8,1)" text-anchor="middle" font-size="17.6" font-weight="bold" font-style="normal" fill="#000" stroke="#000" stroke-width="0.35" >LT</text>
<text transform="translate(983.75,370.00) scale(0.8,1)" text-anchor="middle" font-size="17.6" font-weight="normal" font-style="normal" fill="#000" stroke="#000" stroke-width="0.35" >16.3</text>
<text transform="translate(983.75,396.00) scale(0.8,1)" text-anchor="middle" font-size="17.6" font-weight="normal" font-style="normal" fill="#000" stroke="#000" stroke-width="0.35" >19.6</text>
<text transform="translate(73.40,422.00) scale(0.8,1)" text-anchor="middle" font-size="17.6" font-weight="bold" font-style="normal" fill="#000" stroke="#000" stroke-width="0.35" >ME</text>
<text transform="translate(73.40,448.00) scale(0.8,1)" text-anchor="middle" font-size="17.6" font-weight="normal" font-style="normal" fill="#000" stroke="#000" stroke-width="0.35" >16.0</text>
<text transform="translate(73.40,474.00) scale(0.8,1)" text-anchor="middle" font-size="17.6" font-weight="normal" font-style="normal" fill="#000" stroke="#000" stroke-width="0.35" >16.4</text>
<text transform="translate(115.15,422.00) scale(0.8,1)" text-anchor="middle" font-size="17.6" font-weight="bold" font-style="normal" fill="#000" stroke="#000" stroke-width="0.35" >CH</text>
<text transform="translate(115.15,448.00) scale(0.8,1)" text-anchor="middle" font-size="17.6" font-weight="normal" font-style="normal" fill="#000" stroke="#000" stroke-width="0.35" >16.0</text>
<text transform="translate(115.15,474.00) scale(0.8,1)" text-anchor="middle" font-size="17.6" font-weight="normal" font-style="normal" fill="#000" stroke="#000" stroke-width="0.35" >14.2</text>
<text transform="translate(156.60,422.00) scale(0.8,1)" text-anchor="middle" font-size="17.6" font-weight="bold" font-style="normal" fill="#000" stroke="#000" stroke-width="0.35" >PL</text>
<text transform="translate(156.60,448.00) scale(0.8,1)" text-anchor="middle" font-size="17.6" font-weight="normal" font-style="normal" fill="#000" stroke="#000" stroke-width="0.35" >15.4</text>
<text transform="translate(156.60,474.00) scale(0.8,1)" text-anchor="middle" font-size="17.6" font-weight="normal" font-style="normal" fill="#000" stroke="#000" stroke-width="0.35" >16.1</text>
<text transform="translate(198.00,422.00) scale(0.8,1)" text-anchor="middle" font-size="17.6" font-weight="bold" font-style="normal" fill="#000" stroke="#000" stroke-width="0.35" >AL</text>
<text transform="translate(198.00,448.00) scale(0.8,1)" text-anchor="middle" font-size="17.6" font-weight="normal" font-style="normal" fill="#000" stroke="#000" stroke-width="0.35" >15.3</text>
<text transform="translate(198.00,474.00) scale(0.8,1)" text-anchor="middle" font-size="17.6" font-weight="normal" font-style="normal" fill="#000" stroke="#000" stroke-width="0.35" >:</text>
<text transform="translate(239.65,422.00) scale(0.8,1)" text-anchor="middle" font-size="17.6" font-weight="bold" font-style="normal" fill="#000" stroke="#000" stroke-width="0.35" >CZ</text>
<text transform="translate(239.65,448.00) scale(0.8,1)" text-anchor="middle" font-size="17.6" font-weight="normal" font-style="normal" fill="#000" stroke="#000" stroke-width="0.35" >15.0</text>
<text transform="translate(239.65,474.00) scale(0.8,1)" text-anchor="middle" font-size="17.6" font-weight="normal" font-style="normal" fill="#000" stroke="#000" stroke-width="0.35" >14.5</text>
<text transform="translate(281.20,422.00) scale(0.8,1)" text-anchor="middle" font-size="17.6" font-weight="bold" font-style="normal" fill="#000" stroke="#000" stroke-width="0.35" >BG</text>
<text transform="translate(281.20,448.00) scale(0.8,1)" text-anchor="middle" font-size="17.6" font-weight="normal" font-style="normal" fill="#000" stroke="#000" stroke-width="0.35" >15.0</text>
<text transform="translate(281.20,474.00) scale(0.8,1)" text-anchor="middle" font-size="17.6" font-weight="normal" font-style="normal" fill="#000" stroke="#000" stroke-width="0.35" >16.2</text>
<text transform="translate(322.65,422.00) scale(0.8,1)" text-anchor="middle" font-size="17.6" font-weight="bold" font-style="normal" fill="#000" stroke="#000" stroke-width="0.35" >SM</text>
<text transform="translate(322.65,448.00) scale(0.8,1)" text-anchor="middle" font-size="17.6" font-weight="normal" font-style="normal" fill="#000" stroke="#000" stroke-width="0.35" >14.0</text>
<text transform="translate(322.65,474.00) scale(0.8,1)" text-anchor="middle" font-size="17.6" font-weight="normal" font-style="normal" fill="#000" stroke="#000" stroke-width="0.35" >8.0</text>
<text transform="translate(364.00,422.00) scale(0.8,1)" text-anchor="middle" font-size="17.6" font-weight="bold" font-style="normal" fill="#000" stroke="#000" stroke-width="0.35" >EE</text>
<text transform="translate(364.00,448.00) scale(0.8,1)" text-anchor="middle" font-size="17.6" font-weight="normal" font-style="normal" fill="#000" stroke="#000" stroke-width="0.35" >13.9</text>
<text transform="translate(364.00,474.00) scale(0.8,1)" text-anchor="middle" font-size="17.6" font-weight="normal" font-style="normal" fill="#000" stroke="#000" stroke-width="0.35" >14.8</text>
<text transform="translate(405.45,422.00) scale(0.8,1)" text-anchor="middle" font-size="17.6" font-weight="bold" font-style="normal" fill="#000" stroke="#000" stroke-width="0.35" >UA</text>
<text transform="translate(405.45,448.00) scale(0.8,1)" text-anchor="middle" font-size="17.6" font-weight="normal" font-style="normal" fill="#000" stroke="#000" stroke-width="0.35" >13.6</text>
<text transform="translate(405.45,474.00) scale(0.8,1)" text-anchor="middle" font-size="17.6" font-weight="normal" font-style="normal" fill="#000" stroke="#000" stroke-width="0.35" >12.7</text>
<text transform="translate(446.85,422.00) scale(0.8,1)" text-anchor="middle" font-size="17.6" font-weight="bold" font-style="normal" fill="#000" stroke="#000" stroke-width="0.35" >MK</text>
<text transform="translate(446.85,448.00) scale(0.8,1)" text-anchor="middle" font-size="17.6" font-weight="normal" font-style="normal" fill="#000" stroke="#000" stroke-width="0.35" >13.3</text>
<text transform="translate(446.85,474.00) scale(0.8,1)" text-anchor="middle" font-size="17.6" font-weight="normal" font-style="normal" fill="#000" stroke="#000" stroke-width="0.35" >11.4</text>
<text transform="translate(488.05,422.00) scale(0.8,1)" text-anchor="middle" font-size="17.6" font-weight="bold" font-style="normal" fill="#000" stroke="#000" stroke-width="0.35" >HU</text>
<text transform="translate(488.05,448.00) scale(0.8,1)" text-anchor="middle" font-size="17.6" font-weight="normal" font-style="normal" fill="#000" stroke="#000" stroke-width="0.35" >12.7</text>
<text transform="translate(488.05,474.00) scale(0.8,1)" text-anchor="middle" font-size="17.6" font-weight="normal" font-style="normal" fill="#000" stroke="#000" stroke-width="0.35" >12.5</text>
<text transform="translate(529.45,422.00) scale(0.8,1)" text-anchor="middle" font-size="17.6" font-weight="bold" font-style="normal" fill="#000" stroke="#000" stroke-width="0.35" >RO</text>
<text transform="translate(529.45,448.00) scale(0.8,1)" text-anchor="middle" font-size="17.6" font-weight="normal" font-style="normal" fill="#000" stroke="#000" stroke-width="0.35" >12.4</text>
<text transform="translate(529.45,474.00) scale(0.8,1)" text-anchor="middle" font-size="17.6" font-weight="normal" font-style="normal" fill="#000" stroke="#000" stroke-width="0.35" >11.2</text>
<text transform="translate(571.00,422.00) scale(0.8,1)" text-anchor="middle" font-size="17.6" font-weight="bold" font-style="normal" fill="#000" stroke="#000" stroke-width="0.35" >MD</text>
<text transform="translate(571.00,448.00) scale(0.8,1)" text-anchor="middle" font-size="17.6" font-weight="normal" font-style="normal" fill="#000" stroke="#000" stroke-width="0.35" >11.7</text>
<text transform="translate(571.00,474.00) scale(0.8,1)" text-anchor="middle" font-size="17.6" font-weight="normal" font-style="normal" fill="#000" stroke="#000" stroke-width="0.35" >12.5</text>
<text transform="translate(612.30,422.00) scale(0.8,1)" text-anchor="middle" font-size="17.6" font-weight="bold" font-style="normal" fill="#000" stroke="#000" stroke-width="0.35" >MT</text>
<text transform="translate(612.30,448.00) scale(0.8,1)" text-anchor="middle" font-size="17.6" font-weight="normal" font-style="normal" fill="#000" stroke="#000" stroke-width="0.35" >11.1</text>
<text transform="translate(612.30,474.00) scale(0.8,1)" text-anchor="middle" font-size="17.6" font-weight="normal" font-style="normal" fill="#000" stroke="#000" stroke-width="0.35" >11.0</text>
<text transform="translate(653.65,422.00) scale(0.8,1)" text-anchor="middle" font-size="17.6" font-weight="bold" font-style="normal" fill="#000" stroke="#000" stroke-width="0.35" >SK</text>
<text transform="translate(653.65,448.00) scale(0.8,1)" text-anchor="middle" font-size="17.6" font-weight="normal" font-style="normal" fill="#000" stroke="#000" stroke-width="0.35" >11.0</text>
<text transform="translate(653.65,474.00) scale(0.8,1)" text-anchor="middle" font-size="17.6" font-weight="normal" font-style="normal" fill="#000" stroke="#000" stroke-width="0.35" >11.6</text>
<text transform="translate(695.15,422.00) scale(0.8,1)" text-anchor="middle" font-size="17.6" font-weight="bold" font-style="normal" fill="#000" stroke="#000" stroke-width="0.35" >LI</text>
<text transform="translate(695.15,448.00) scale(0.8,1)" text-anchor="middle" font-size="17.6" font-weight="normal" font-style="normal" fill="#000" stroke="#000" stroke-width="0.35" >10.1</text>
<text transform="translate(695.15,474.00) scale(0.8,1)" text-anchor="middle" font-size="17.6" font-weight="normal" font-style="normal" fill="#000" stroke="#000" stroke-width="0.35" >8.2</text>
<text transform="translate(736.50,422.00) scale(0.8,1)" text-anchor="middle" font-size="17.6" font-weight="bold" font-style="normal" fill="#000" stroke="#000" stroke-width="0.35" >BA</text>
<text transform="translate(736.50,448.00) scale(0.8,1)" text-anchor="middle" font-size="17.6" font-weight="normal" font-style="normal" fill="#000" stroke="#000" stroke-width="0.35" >10.0</text>
<text transform="translate(736.50,474.00) scale(0.8,1)" text-anchor="middle" font-size="17.6" font-weight="normal" font-style="normal" fill="#000" stroke="#000" stroke-width="0.35" >12.2</text>
<text transform="translate(777.95,422.00) scale(0.8,1)" text-anchor="middle" font-size="17.6" font-weight="bold" font-style="normal" fill="#000" stroke="#000" stroke-width="0.35" >AZ</text>
<text transform="translate(777.95,448.00) scale(0.8,1)" text-anchor="middle" font-size="17.6" font-weight="normal" font-style="normal" fill="#000" stroke="#000" stroke-width="0.35" >6.3</text>
<text transform="translate(777.95,474.00) scale(0.8,1)" text-anchor="middle" font-size="17.6" font-weight="normal" font-style="normal" fill="#000" stroke="#000" stroke-width="0.35" >5.2</text>
<text transform="translate(819.50,422.00) scale(0.8,1)" text-anchor="middle" font-size="17.6" font-weight="bold" font-style="normal" fill="#000" stroke="#000" stroke-width="0.35" >LU</text>
<text transform="translate(819.50,448.00) scale(0.8,1)" text-anchor="middle" font-size="17.6" font-weight="normal" font-style="normal" fill="#000" stroke="#000" stroke-width="0.35" >4.5</text>
<text transform="translate(819.50,474.00) scale(0.8,1)" text-anchor="middle" font-size="17.6" font-weight="normal" font-style="normal" fill="#000" stroke="#000" stroke-width="0.35" >4.6</text>
<text transform="translate(860.85,422.00) scale(0.8,1)" text-anchor="middle" font-size="17.6" font-weight="bold" font-style="normal" fill="#000" stroke="#000" stroke-width="0.35" >AD</text>
<text transform="translate(860.85,448.00) scale(0.8,1)" text-anchor="middle" font-size="17.6" font-weight="normal" font-style="normal" fill="#000" stroke="#000" stroke-width="0.35" >2.8</text>
<text transform="translate(860.85,474.00) scale(0.8,1)" text-anchor="middle" font-size="17.6" font-weight="normal" font-style="normal" fill="#000" stroke="#000" stroke-width="0.35" >2.8</text>
<text transform="translate(902.15,422.00) scale(0.8,1)" text-anchor="middle" font-size="17.6" font-weight="bold" font-style="normal" fill="#000" stroke="#000" stroke-width="0.35" >UK</text>
<text transform="translate(902.15,448.00) scale(0.8,1)" text-anchor="middle" font-size="17.6" font-weight="normal" font-style="normal" fill="#000" stroke="#000" stroke-width="0.35" >:</text>
<text transform="translate(902.15,474.00) scale(0.8,1)" text-anchor="middle" font-size="17.6" font-weight="normal" font-style="normal" fill="#000" stroke="#000" stroke-width="0.35" >13.6</text>
<text transform="translate(963.45,422.00) scale(0.8,1)" text-anchor="middle" font-size="17.6" font-weight="bold" font-style="normal" fill="#000" stroke="#000" stroke-width="0.35" >EHEA</text>
<text transform="translate(963.45,448.00) scale(0.8,1)" text-anchor="middle" font-size="17.6" font-weight="normal" font-style="normal" fill="#000" stroke="#000" stroke-width="0.35" >16.9</text>
<text transform="translate(963.45,474.00) scale(0.8,1)" text-anchor="middle" font-size="17.6" font-weight="normal" font-style="normal" fill="#000" stroke="#000" stroke-width="0.35" >15.9</text>
<text transform="translate(13.20,370.00) scale(0.81,1)" text-anchor="start" font-size="17.6" font-weight="bold" font-style="normal" fill="#000" stroke="#000" stroke-width="0.35" >2021</text>
<text transform="translate(13.20,396.00) scale(0.81,1)" text-anchor="start" font-size="17.6" font-weight="bold" font-style="normal" fill="#000" stroke="#000" stroke-width="0.35" >2016</text>
<text transform="translate(13.20,448.00) scale(0.81,1)" text-anchor="start" font-size="17.6" font-weight="bold" font-style="normal" fill="#000" stroke="#000" stroke-width="0.35" >2021</text>
<text transform="translate(13.20,474.00) scale(0.81,1)" text-anchor="start" font-size="17.6" font-weight="bold" font-style="normal" fill="#000" stroke="#000" stroke-width="0.35" >2016</text>
<text x="14.2" y="503.8" font-size="17.5" fill="#000" stroke="#000" stroke-width="0.2"><tspan font-style="italic">Source:</tspan> Eurostat, UOE and additional collection for the other EHEA countries.</text>
</svg>
</body></html>
